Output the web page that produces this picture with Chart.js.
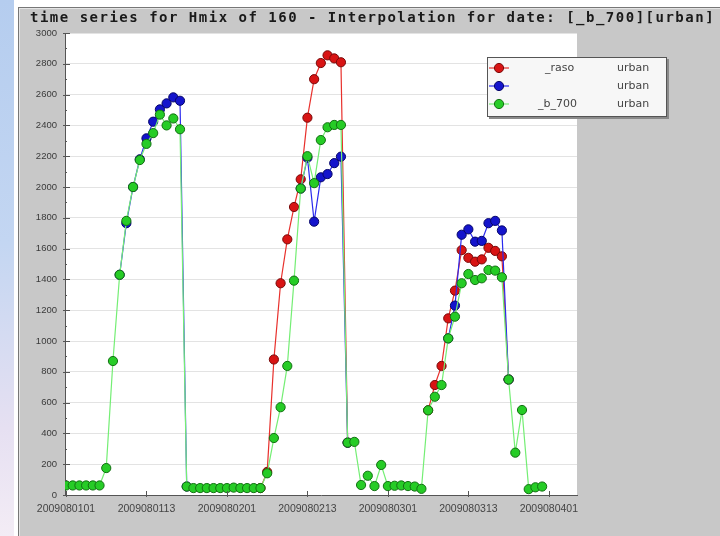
<!DOCTYPE html>
<html>
<head>
<meta charset="utf-8">
<script src="https://cdn.jsdelivr.net/npm/chart.js@4/dist/chart.umd.min.js"></script>
<style>
  html, body { margin: 0; padding: 0; width: 720px; height: 536px; overflow: hidden; background: #fff; }
  #strip { position: absolute; left: 0; top: 0; width: 14px; height: 536px;
    background: linear-gradient(to bottom, #b5cdef 0%, #c3d6f2 45%, #e6e0f2 80%, #f3ecf5 100%); }
  #panel { position: absolute; left: 18px; top: 7px; width: 701px; height: 528px; background: #c8c8c8;
    border-left: 1px solid #777; border-top: 1px solid #777; box-shadow: inset 1px 1px 0 #e4e4e4; }
  #title { position: absolute; left: 30px; top: 9px; font: bold 14px "DejaVu Sans Mono", monospace;
    letter-spacing: 1.5px; color: #1a1a1a; white-space: nowrap; }
  canvas { position: absolute; left: 0; top: 0; }
</style>
</head>
<body>
<div id="strip"></div>
<div id="panel"></div>
<canvas id="c" width="720" height="536"></canvas>
<div id="title">time series for Hmix of 160 - Interpolation for date: [_b_700][urban]</div>
<script>
// Hourly mixing height values, hour 0 = 2009080101
const xTickLabels = ['2009080101', '2009080113', '2009080201', '2009080213', '2009080301', '2009080313', '2009080401'];

const b700 = [
  62, 62, 62, 62, 62, 62, 175, 870, 1430, 1780, 2000, 2175, 2280, 2350, 2470, 2400, 2445, 2375,
  55, 45, 45, 45, 45, 45, 45, 48, 45, 45, 45, 45,
  141, 370, 570, 838, 1392, 1990, 2200, 2025, 2305, 2388, 2403, 2403,
  340, 345, 65, 125, 58, 195, 58, 60, 62, 58, 55, 40,
  550, 638, 714, 1017, 1158, 1375, 1435, 1396, 1407, 1461, 1457, 1414,
  750, 275, 552, 38, 50, 55
];

// observed segments (null = no value)
const rasoStart1 = 29;
const raso1 = [45, 150, 880, 1375, 1660, 1870, 2050, 2450, 2700, 2805, 2855, 2835, 2810, 340];
const rasoStart2 = 54;
const raso2 = [550, 714, 838, 1147, 1327, 1590, 1540, 1515, 1530, 1605, 1585, 1550, 750];

const interpStart1 = 8;
const interp1 = [1430, 1765, 2000, 2180, 2316, 2424, 2504, 2543, 2582, 2560, 55];
const interpStart2 = 35;
const interp2 = [1990, 2190, 1775, 2063, 2084, 2155, 2197, 340];
const interpStart3 = 57;
const interp3 = [1017, 1230, 1690, 1725, 1645, 1650, 1765, 1780, 1718, 750];

const legendNames = ['_raso', '', '_b_700'];
const legendClass = ['urban', 'urban', 'urban'];

function placeSegments(segments) {
  const out = new Array(b700.length).fill(null);
  segments.forEach(([start, vals]) => vals.forEach((v, k) => { out[start + k] = v; }));
  return out;
}
const raso = placeSegments([[rasoStart1, raso1], [rasoStart2, raso2]]);
const interp = placeSegments([[interpStart1, interp1], [interpStart2, interp2], [interpStart3, interp3]]);

const toPoints = arr => arr.map((v, i) => ({ x: i, y: v }));

const styles = [
  { line: '#e8302c', fill: '#d81414', edge: '#7a0a0a' },
  { line: '#2a2aee', fill: '#1414cc', edge: '#06066a' },
  { line: '#74ee74', fill: '#26cc26', edge: '#137013' }
];

function ds(label, arr, st, order) {
  return {
    label, data: toPoints(arr), order,
    borderColor: st.line, borderWidth: 1.2,
    pointBackgroundColor: st.fill, pointBorderColor: st.edge, pointBorderWidth: 1,
    pointRadius: 4.6, pointStyle: 'circle', tension: 0, spanGaps: false
  };
}

const plotBg = {
  id: 'plotBg',
  beforeDraw(chart) {
    const { ctx, chartArea: a } = chart;
    ctx.save();
    ctx.fillStyle = '#ffffff';
    ctx.fillRect(a.left, a.top, a.right - a.left, a.bottom - a.top);
    ctx.restore();
  }
};

const tickMarks = {
  id: 'tickMarks',
  afterDatasetsDraw(chart) {
    const { ctx, chartArea: a, scales } = chart;
    ctx.save();
    ctx.strokeStyle = '#555';
    ctx.lineWidth = 1;
    ctx.beginPath();
    for (let v = 0; v <= 3000; v += 100) {
      const y = Math.round(scales.y.getPixelForValue(v)) + 0.5;
      const major = v % 200 === 0;
      ctx.moveTo(a.left - (major ? 2 : 0), y);
      ctx.lineTo(a.left + (major ? 5 : 2), y);
    }
    xTickLabels.forEach((_, k) => {
      const x = Math.round(scales.x.getPixelForValue(k * 12)) + 0.5;
      ctx.moveTo(x, a.bottom + 2);
      ctx.lineTo(x, a.bottom - 4);
    });
    ctx.stroke();
    ctx.restore();
  }
};

const boxLegend = {
  id: 'boxLegend',
  afterDraw(chart) {
    const ctx = chart.ctx;
    const bx = 487, by = 57, bw = 180, bh = 60;
    ctx.save();
    ctx.fillStyle = '#8a8a8a';
    ctx.fillRect(bx + 2, by + 2, bw, bh);
    ctx.fillStyle = '#f7f7f7';
    ctx.fillRect(bx, by, bw, bh);
    ctx.strokeStyle = '#555';
    ctx.lineWidth = 1;
    ctx.strokeRect(bx + 0.5, by + 0.5, bw - 1, bh - 1);
    ctx.font = '11px "DejaVu Sans", sans-serif';
    ctx.textBaseline = 'middle';
    const rowY = [68, 86, 104];
    const nameX = [545, 545, 538];
    styles.forEach((st, i) => {
      const y = rowY[i];
      ctx.strokeStyle = st.line;
      ctx.lineWidth = 1.2;
      ctx.beginPath();
      ctx.moveTo(489, y); ctx.lineTo(509, y);
      ctx.stroke();
      ctx.beginPath();
      ctx.arc(499, y, 4.6, 0, Math.PI * 2);
      ctx.fillStyle = st.fill; ctx.fill();
      ctx.strokeStyle = st.edge; ctx.lineWidth = 1; ctx.stroke();
      ctx.fillStyle = '#444';
      ctx.fillText(legendNames[i], nameX[i], y);
      ctx.fillText(legendClass[i], 617, y);
    });
    ctx.restore();
  }
};

new Chart(document.getElementById('c'), {
  type: 'line',
  data: {
    datasets: [
      ds('_raso', raso, styles[0], 2),
      ds('', interp, styles[1], 1),
      ds('_b_700', b700, styles[2], 0)
    ]
  },
  options: {
    responsive: false,
    animation: false,
    devicePixelRatio: 1,
    layout: { padding: { left: 0, top: 33, right: 143, bottom: 0 } },
    plugins: { legend: { display: false }, tooltip: { enabled: false }, title: { display: false } },
    scales: {
      x: {
        type: 'linear', min: -0.15, max: 76.2,
        afterBuildTicks(scale) { scale.ticks = xTickLabels.map((_, k) => ({ value: k * 12 })); },
        afterFit(scale) { scale.height = 41; },
        grid: { display: false, drawTicks: false },
        border: { display: true, color: '#555', width: 1 },
        ticks: {
          autoSkip: false, maxRotation: 0, padding: 8, color: '#444',
          font: { family: '"Liberation Sans", Arial, sans-serif', size: 10.5 },
          callback: (v, i) => xTickLabels[i]
        }
      },
      y: {
        min: 0, max: 3000,
        afterFit(scale) { scale.width = 65; },
        grid: {
          drawTicks: false,
          color: ctx => (ctx.tick && ctx.tick.value % 200 === 0 ? '#e3e3e3' : 'rgba(0,0,0,0)')
        },
        border: { display: true, color: '#555', width: 1 },
        ticks: {
          stepSize: 100, autoSkip: false, padding: 8, color: '#3a3a3a',
          font: { family: '"Liberation Sans", Arial, sans-serif', size: 9.5 },
          callback: v => (v % 200 === 0 ? String(v) : '')
        }
      }
    }
  },
  plugins: [plotBg, tickMarks, boxLegend]
});
</script>
</body>
</html>
